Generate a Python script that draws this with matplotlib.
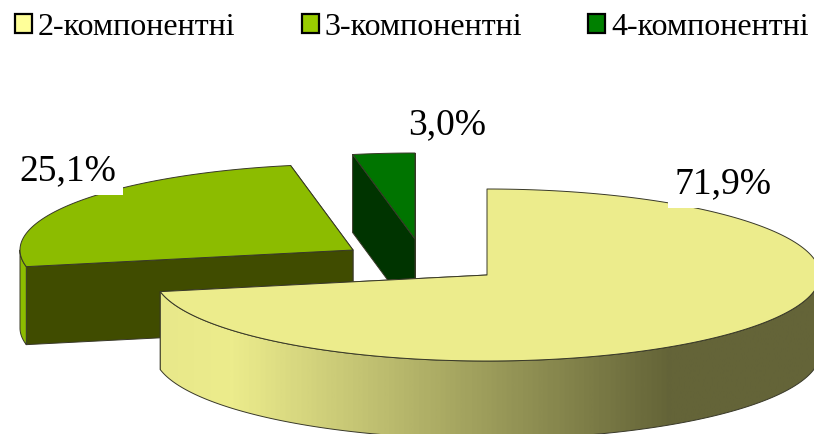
#!/usr/bin/env python
"""
3D exploded pie of component shares, drawn by hand since matplotlib has no such pie
"""
import numpy as np
from matplotlib import pyplot as plt
from matplotlib.colors import LinearSegmentedColormap
from matplotlib.patches import Patch, Polygon

categories = ['2-компонентні', '3-компонентні', '4-компонентні']
shares = [71.9, 25.1, 3.0]
value_labels = ['71,9%', '25,1%', '3,0%']
legend_colors = ['#FFFF99', '#99CC00', '#008000']
top_colors = ['#ECEC8C', '#8CBC00', '#007400']
cut_colors = ['#ECEC8C', '#404C00', '#003400']

## projection of the pie, in pixels
RX, RY, DEPTH = 333., 86., 78.
centers = [(487., 275.), (353., 250.), (415., 239.)]
label_pos = [(723, 184), (68, 171), (447, 125)]

plt.rcParams['font.family'] = ['Liberation Serif', 'DejaVu Serif']
fig = plt.figure(figsize=(8.14, 4.34), dpi=100)
ax = fig.add_axes([0, 0, 1, 1])


def arc(center, start, stop, drop=0.):
    """points of the rim; angles are clockwise degrees from 12 o'clock"""
    th = np.radians(np.linspace(start, stop, 200))
    return np.column_stack([center[0] + RX*np.sin(th), center[1] - RY*np.cos(th) + drop])


def outer_side(center, start, stop):
    upper = arc(center, start, stop)
    lower = arc(center, start, stop, DEPTH)
    return np.vstack([upper, lower[::-1]])


def cut_face(center, angle):
    rim = arc(center, angle, angle)[0]
    return [center, rim, (rim[0], rim[1] + DEPTH), (center[0], center[1] + DEPTH)]


edge = dict(edgecolor='#383828', linewidth=0.7, joinstyle='round')
stops = np.cumsum([0] + shares) * 3.6

## back to front: 4-, 3-, then 2-component slice
for i in [2, 1, 0]:
    c = centers[i]
    start, stop = stops[i], stops[i+1]
    for angle in (stop, start):
        ax.add_patch(Polygon(cut_face(c, angle), facecolor=cut_colors[i], **edge))
    if i == 1:
        ax.add_patch(Polygon(outer_side(c, start, 270), facecolor=top_colors[i], **edge))
    if i == 0:
        side = Polygon(outer_side(c, 90, stop), facecolor='none', **edge)
        ax.add_patch(side)
        cmap = LinearSegmentedColormap.from_list('side', ['#E8E88A', '#ECEC8C', '#646438', '#646438'])
        shade = np.interp(np.linspace(0, 1, 400), [0, 0.1, 0.78, 1], [0, 0.33, 0.67, 1])
        im = ax.imshow(shade[np.newaxis, :], cmap=cmap, aspect='auto', vmin=0, vmax=1,
                       extent=(160, 820, 0, 434), zorder=side.get_zorder())
        im.set_clip_path(side)
        side.set_zorder(im.get_zorder() + 0.1)
    top = np.vstack([[c], arc(c, start, stop)])
    ax.add_patch(Polygon(top, facecolor=top_colors[i], zorder=3, **edge))

for (x, y), label in zip(label_pos, value_labels):
    ax.text(x, y, label, fontsize=27, ha='center', va='center', zorder=4,
            bbox=dict(facecolor='white', edgecolor='none', pad=4.5))

handles = [Patch(facecolor=col, edgecolor='black', linewidth=1.6) for col in legend_colors]
fs = 23
px = fs * 100 / 72
leg = ax.legend(handles, categories, ncol=3, frameon=False, fontsize=fs, loc='upper left',
                bbox_to_anchor=(15/814, 1 - 13/434), borderpad=0, borderaxespad=0,
                handlelength=17/px, handleheight=17/px, handletextpad=6/px, columnspacing=66/px)

ax.set_xlim(0, 814)
ax.set_ylim(434, 0)
ax.axis('off')
plt.savefig('out.png', dpi=100)
